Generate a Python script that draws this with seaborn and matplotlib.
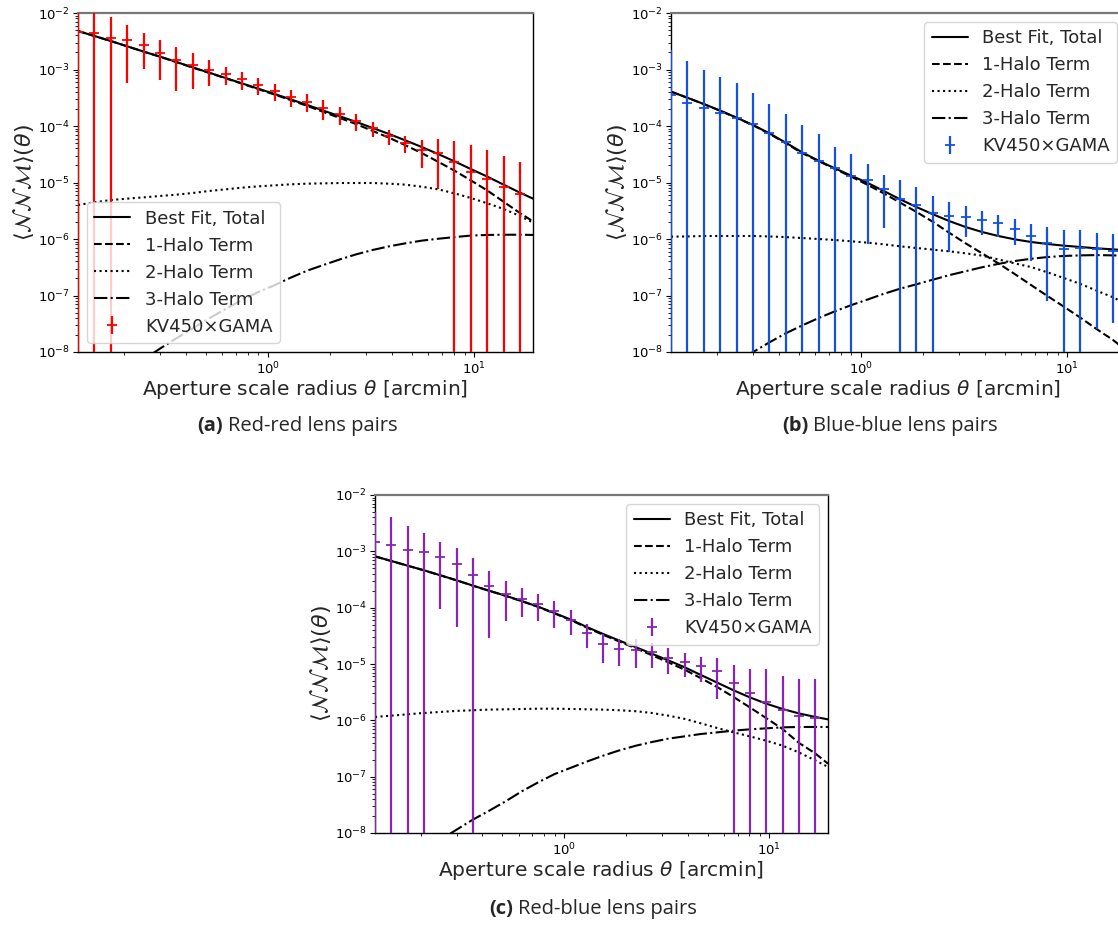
import matplotlib
matplotlib.use("Agg")
import matplotlib.pyplot as plt
import seaborn as sns

# ---------------- data ----------------
theta = [0.120, 0.144, 0.173, 0.208, 0.250, 0.300, 0.360, 0.432, 0.519, 0.623,
         0.748, 0.898, 1.08, 1.29, 1.55, 1.86, 2.24, 2.68, 3.22, 3.87,
         4.64, 5.57, 6.69, 8.03, 9.64, 11.6, 13.9, 16.7]
theta_model = [0.120, 0.144, 0.173, 0.208, 0.250, 0.300, 0.360, 0.432, 0.519, 0.623,
               0.748, 0.898, 1.08, 1.29, 1.55, 1.86, 2.24, 2.68, 3.22, 3.87,
               4.64, 5.57, 6.69, 8.03, 9.64, 11.6, 13.9, 16.7, 19.3]

# (a) red-red
rr_val = [4.6e-3, 4.37e-3, 3.65e-3, 3.33e-3, 2.72e-3, 1.99e-3, 1.47e-3, 1.20e-3, 9.8e-4, 8.3e-4,
          6.7e-4, 5.3e-4, 4.2e-4, 3.3e-4, 2.7e-4, 2.06e-4, 1.61e-4, 1.24e-4, 9.1e-5, 6.65e-5,
          4.93e-5, 3.76e-5, 3.28e-5, 2.34e-5, 1.56e-5, 1.17e-5, 8.2e-6, 6.25e-6]
rr_err = [1.2e-2, 9e-3, 4.75e-3, 2.75e-3, 1.68e-3, 1.33e-3, 1.06e-3, 7.4e-4, 4.7e-4, 3.0e-4,
          2.3e-4, 1.7e-4, 1.4e-4, 1.1e-4, 9.5e-5, 7.8e-5, 5.5e-5, 4.2e-5, 2.7e-5, 2.0e-5,
          1.65e-5, 1.95e-5, 2.5e-5, 3.0e-5, 3.0e-5, 2.6e-5, 2.1e-5, 1.7e-5]
rr_total = [4.80e-3, 3.92e-3, 3.19e-3, 2.57e-3, 2.07e-3, 1.69e-3, 1.36e-3, 1.09e-3, 8.79e-4, 7.08e-4,
            5.69e-4, 4.58e-4, 3.68e-4, 2.96e-4, 2.36e-4, 1.87e-4, 1.48e-4, 1.18e-4, 9.23e-5, 7.21e-5,
            5.57e-5, 4.25e-5, 3.19e-5, 2.37e-5, 1.73e-5, 1.27e-5, 9.16e-6, 6.61e-6, 5.18e-6]
rr_1h = [4.80e-3, 3.92e-3, 3.19e-3, 2.57e-3, 2.07e-3, 1.68e-3, 1.35e-3, 1.08e-3, 8.70e-4, 7.00e-4,
         5.61e-4, 4.49e-4, 3.59e-4, 2.87e-4, 2.27e-4, 1.77e-4, 1.38e-4, 1.08e-4, 8.19e-5, 6.19e-5,
         4.57e-5, 3.32e-5, 2.33e-5, 1.62e-5, 1.09e-5, 7.2e-6, 4.57e-6, 2.87e-6, 2.05e-6]
rr_2h = [4.00e-6, 4.46e-6, 4.90e-6, 5.18e-6, 5.46e-6, 5.77e-6, 6.09e-6, 6.52e-6, 7.08e-6, 7.57e-6,
         8.10e-6, 8.55e-6, 8.91e-6, 9.29e-6, 9.53e-6, 9.66e-6, 9.80e-6, 9.80e-6, 9.80e-6, 9.53e-6,
         9.16e-6, 8.43e-6, 7.57e-6, 6.43e-6, 5.32e-6, 4.28e-6, 3.40e-6, 2.55e-6, 1.95e-6]
rr_3h = [1.41e-9, 2.12e-9, 3.19e-9, 4.93e-9, 7.41e-9, 1.15e-8, 1.75e-8, 2.62e-8, 3.94e-8, 5.77e-8,
         8.32e-8, 1.15e-7, 1.53e-7, 2.07e-7, 2.75e-7, 3.47e-7, 4.37e-7, 5.35e-7, 6.39e-7, 7.42e-7,
         8.38e-7, 9.35e-7, 1.01e-6, 1.08e-6, 1.15e-6, 1.18e-6, 1.19e-6, 1.19e-6, 1.18e-6]

# (b) blue-blue
bb_val = [3.5e-4, 2.52e-4, 2.06e-4, 1.72e-4, 1.40e-4, 1.08e-4, 7.62e-5, 5.28e-5, 3.28e-5, 2.40e-5,
          1.78e-5, 1.30e-5, 1.11e-5, 7.57e-6, 5.1e-6, 4.05e-6, 2.85e-6, 2.59e-6, 2.45e-6, 2.17e-6,
          1.89e-6, 1.52e-6, 1.13e-6, 8.61e-7, 6.56e-7, 6.84e-7, 6.56e-7, 6.22e-7]
bb_err = [1.85e-3, 1.16e-3, 7.7e-4, 5.7e-4, 4.3e-4, 2.7e-4, 1.66e-4, 1.08e-4, 7.1e-5, 4.8e-5,
          2.5e-5, 1.9e-5, 1.03e-5, 6.0e-6, 6.0e-6, 4.4e-6, 2.9e-6, 2.0e-6, 1.37e-6, 1.0e-6,
          0.8e-6, 0.73e-6, 0.72e-6, 0.78e-6, 0.79e-6, 0.78e-6, 0.63e-6, 0.59e-6]
bb_total = [4.06e-4, 3.17e-4, 2.45e-4, 1.87e-4, 1.40e-4, 1.04e-4, 7.41e-5, 5.07e-5, 3.42e-5, 2.43e-5,
            1.78e-5, 1.32e-5, 9.80e-6, 7.08e-6, 5.04e-6, 3.68e-6, 2.73e-6, 2.08e-6, 1.63e-6, 1.33e-6,
            1.13e-6, 9.86e-7, 8.85e-7, 8.16e-7, 7.62e-7, 7.22e-7, 6.84e-7, 6.56e-7, 6.30e-7]
bb_1h = [4.05e-4, 3.16e-4, 2.44e-4, 1.86e-4, 1.39e-4, 1.03e-4, 7.30e-5, 4.96e-5, 3.31e-5, 2.40e-5,
         1.73e-5, 1.27e-5, 9.04e-6, 6.43e-6, 4.40e-6, 3.01e-6, 2.00e-6, 1.29e-6, 8.38e-7, 5.57e-7,
         3.71e-7, 2.40e-7, 1.53e-7, 9.80e-8, 6.34e-8, 4.05e-8, 2.55e-8, 1.63e-8, 1.08e-8]
bb_2h = [1.10e-6, 1.11e-6, 1.13e-6, 1.13e-6, 1.13e-6, 1.13e-6, 1.11e-6, 1.08e-6, 1.04e-6, 1.00e-6,
         9.60e-7, 9.10e-7, 8.61e-7, 8.05e-7, 7.42e-7, 6.93e-7, 6.48e-7, 6.05e-7, 5.58e-7, 5.07e-7,
         4.35e-7, 3.70e-7, 3.19e-7, 2.57e-7, 2.04e-7, 1.60e-7, 1.22e-7, 9.29e-8, 7.08e-8]
bb_3h = [1.26e-9, 2.00e-9, 3.16e-9, 4.68e-9, 6.92e-9, 1.00e-8, 1.48e-8, 2.14e-8, 2.95e-8, 3.98e-8,
         5.25e-8, 6.76e-8, 8.51e-8, 1.07e-7, 1.32e-7, 1.58e-7, 1.91e-7, 2.29e-7, 2.69e-7, 3.16e-7,
         3.63e-7, 4.07e-7, 4.47e-7, 4.79e-7, 5.01e-7, 5.13e-7, 5.19e-7, 5.13e-7, 5.07e-7]

# (c) red-blue
rb_val = [1.47e-3, 1.28e-3, 1.07e-3, 9.6e-4, 7.93e-4, 5.95e-4, 3.75e-4, 2.39e-4, 1.77e-4, 1.45e-4,
          1.16e-4, 8.73e-5, 6.12e-5, 3.55e-5, 2.26e-5, 1.85e-5, 1.80e-5, 1.61e-5, 1.28e-5, 1.07e-5,
          9.09e-6, 7.62e-6, 4.60e-6, 3.06e-6, 2.09e-6, 1.55e-6, 1.18e-6, 1.09e-6]
rb_err = [3.5e-3, 2.74e-3, 1.79e-3, 1.16e-3, 7.0e-4, 5.5e-4, 3.9e-4, 2.1e-4, 1.2e-4, 7.8e-5,
          5.7e-5, 4.4e-5, 2.8e-5, 1.6e-5, 1.2e-5, 9.3e-6, 9.6e-6, 7.6e-6, 6.2e-6, 4.9e-6,
          4.2e-6, 5.2e-6, 4.9e-6, 5.1e-6, 6.1e-6, 4.5e-6, 4.2e-6, 4.3e-6]
rb_total = [8.15e-4, 6.74e-4, 5.57e-4, 4.60e-4, 3.75e-4, 3.06e-4, 2.46e-4, 2.00e-4, 1.63e-4, 1.31e-4,
            1.04e-4, 8.04e-5, 6.12e-5, 4.54e-5, 3.41e-5, 2.60e-5, 1.98e-5, 1.52e-5, 1.16e-5, 8.73e-6,
            6.38e-6, 4.67e-6, 3.41e-6, 2.56e-6, 1.98e-6, 1.59e-6, 1.33e-6, 1.15e-6, 1.04e-6]
rb_1h = [8.14e-4, 6.73e-4, 5.56e-4, 4.59e-4, 3.74e-4, 3.05e-4, 2.45e-4, 1.99e-4, 1.62e-4, 1.30e-4,
         1.03e-4, 7.90e-5, 6.00e-5, 4.42e-5, 3.30e-5, 2.50e-5, 1.89e-5, 1.43e-5, 1.07e-5, 7.9e-6,
         5.6e-6, 3.9e-6, 2.6e-6, 1.7e-6, 1.1e-6, 7.0e-7, 4.0e-7, 2.6e-7, 1.7e-7]
rb_2h = [1.15e-6, 1.21e-6, 1.28e-6, 1.35e-6, 1.41e-6, 1.47e-6, 1.51e-6, 1.55e-6, 1.57e-6, 1.59e-6,
         1.61e-6, 1.61e-6, 1.59e-6, 1.57e-6, 1.55e-6, 1.51e-6, 1.45e-6, 1.35e-6, 1.21e-6, 1.06e-6,
         8.85e-7, 7.31e-7, 6.12e-7, 5.20e-7, 4.36e-7, 3.55e-7, 2.70e-7, 1.95e-7, 1.49e-7]
rb_3h = [1.49e-9, 2.30e-9, 3.45e-9, 5.06e-9, 7.62e-9, 1.15e-8, 1.73e-8, 2.49e-8, 3.65e-8, 5.50e-8,
         7.93e-8, 1.11e-7, 1.44e-7, 1.85e-7, 2.36e-7, 2.93e-7, 3.55e-7, 4.12e-7, 4.73e-7, 5.20e-7,
         5.72e-7, 6.12e-7, 6.56e-7, 6.92e-7, 7.21e-7, 7.51e-7, 7.62e-7, 7.62e-7, 7.62e-7]

series_labels = ["Best Fit, Total", "1-Halo Term", "2-Halo Term", "3-Halo Term"]
data_label = "KV450\u00d7GAMA"
xlabel = r"Aperture scale radius $\theta$ [arcmin]"
ylabel = r"$\langle\mathcal{N}\mathcal{N}\mathcal{M}\rangle(\theta)$"
captions = [("(a)", "Red-red lens pairs"), ("(b)", "Blue-blue lens pairs"), ("(c)", "Red-blue lens pairs")]

# ---------------- figure ----------------
sns.set_style("ticks")
plt.rcParams["font.family"] = ["DejaVu Sans"]
plt.rcParams["axes.edgecolor"] = "black"
plt.rcParams["xtick.color"] = "black"
plt.rcParams["ytick.color"] = "black"
plt.rcParams["mathtext.fontset"] = "dejavusans"

W, H = 1118, 925
fig = plt.figure(figsize=(W / 100, H / 100), dpi=100)

def px_axes(left, right, top, bottom):
    return fig.add_axes([left / W, (H - bottom) / H, (right - left) / W, (bottom - top) / H])

ax_a = px_axes(78, 533, 13, 352)
ax_b = px_axes(671, 1126, 13, 352)
ax_c = px_axes(375, 828, 495, 833)

panels = [
    (ax_a, rr_val, rr_err, rr_total, rr_1h, rr_2h, rr_3h, "#ff0000", "lower left"),
    (ax_b, bb_val, bb_err, bb_total, bb_1h, bb_2h, bb_3h, "#1550e0", "upper right"),
    (ax_c, rb_val, rb_err, rb_total, rb_1h, rb_2h, rb_3h, "#8626b2", "upper right"),
]

styles = ["-", "--", ":", "-."]
for ax, val, err, tot, h1, h2, h3, col, loc in panels:
    ax.set_xscale("log")
    ax.set_yscale("log")
    for yv, ls, lab in zip([tot, h1, h2, h3], styles, series_labels):
        sns.lineplot(x=theta_model, y=yv, ax=ax, color="black", linestyle=ls,
                     linewidth=1.5, label=lab, sort=False, errorbar=None)
    ax.errorbar(theta, val, yerr=err, fmt="+", color=col, ms=6.5, mew=1.3,
                elinewidth=1.6, capsize=0, label=data_label, zorder=3)
    ax.set_xlim(0.12, 19.3)
    ax.set_ylim(1e-8, 1e-2)
    ax.tick_params(axis="both", which="major", labelsize=9.5, length=3.5, width=0.8, pad=2.5)
    ax.tick_params(axis="both", which="minor", length=2, width=0.6)
    ax.set_xlabel(xlabel, fontsize=14.5, labelpad=0.5)
    ax.set_ylabel(ylabel, fontsize=16, labelpad=1)
    for s in ax.spines.values():
        s.set_linewidth(1.0)
        s.set_color("black")
    ax.spines["top"].set_color("#777777")
    ax.spines["top"].set_linewidth(1.6)
    leg = ax.legend(loc=loc, fontsize=13, frameon=True)
    leg.get_frame().set_edgecolor("#cccccc")

# captions with bold panel letters
renderer = fig.canvas.get_renderer()
cap_pos = [(297, 426), (890, 426), (593, 909)]
for (bold, rest), (cx, cy) in zip(captions, cap_pos):
    t1 = fig.text(0, 1 - cy / H, bold, fontsize=14.5, fontweight="bold",
                  family=["Open Sans", "DejaVu Sans"], va="center", ha="left")
    t2 = fig.text(0, 1 - cy / H, rest, fontsize=14.5,
                  family=["Open Sans", "DejaVu Sans"], va="center", ha="left")
    w1 = t1.get_window_extent(renderer).width
    w2 = t2.get_window_extent(renderer).width
    gap = 5
    x0 = cx - (w1 + gap + w2) / 2
    t1.set_x(x0 / W)
    t2.set_x((x0 + w1 + gap) / W)

fig.savefig("out.png", dpi=100)
